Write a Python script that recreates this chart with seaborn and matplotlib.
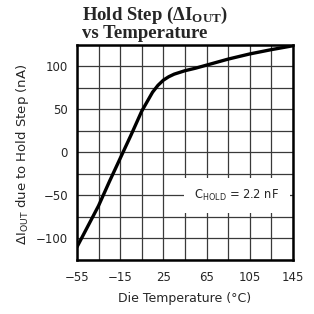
import numpy as np
import pandas as pd
import matplotlib
matplotlib.use("Agg")
import matplotlib.pyplot as plt
import seaborn as sns

# 曲线数据
temp = [-55, -45, -35, -25, -15, -5, 5, 15, 20, 25, 30, 35, 45, 55, 65, 85, 105, 125, 145]
hold_step = [-110, -86, -62, -34, -7, 20, 48, 70, 78, 84, 88, 91, 95, 98, 101.5, 108.5, 114.5, 119.5, 124]

xticks = [-55, -15, 25, 65, 105, 145]
yticks = [-100, -50, 0, 50, 100]

df = pd.DataFrame({"temp": temp, "step": hold_step})

sns.set_theme(style="white")
plt.rcParams["font.family"] = ["DejaVu Sans"]
plt.rcParams["mathtext.fontset"] = "custom"
plt.rcParams["mathtext.rm"] = "Liberation Serif"
plt.rcParams["mathtext.bf"] = "Liberation Serif:bold"
plt.rcParams["mathtext.sf"] = "DejaVu Sans"

fig = plt.figure(figsize=(3.14, 3.14), dpi=100)
ax = fig.add_axes([0.245, 0.172, 0.688, 0.685])

# 网格
for x in np.arange(-55, 146, 20):
    ax.axvline(x, color="#3a3a3a", lw=0.9, zorder=1)
for y in np.arange(-125, 126, 25):
    ax.axhline(y, color="#3a3a3a", lw=0.9, zorder=1)

sns.lineplot(data=df, x="temp", y="step", color="black", lw=2.4, ax=ax, zorder=3)

ax.set_xlim(-55, 145)
ax.set_ylim(-125, 125)
ax.set_xticks(xticks)
ax.set_yticks(yticks)
ax.set_xticklabels([str(v).replace("-", "\u2212") for v in xticks], fontsize=8.5)
ax.set_yticklabels([str(v).replace("-", "\u2212") for v in yticks], fontsize=8.5)
ax.tick_params(axis="x", length=0, pad=8)
ax.tick_params(axis="y", length=0, pad=6.5)
for s in ax.spines.values():
    s.set_linewidth(1.8)
    s.set_color("black")
    s.set_zorder(4)

ax.set_xlabel("Die Temperature (°C)", fontsize=9)
ax.xaxis.set_label_coords(0.5, -0.181)
ax.xaxis.label.set_va("center")
ax.set_ylabel(r"$\mathsf{\Delta I_{OUT}}$ due to Hold Step (nA)", fontsize=9.5)
ax.yaxis.set_label_coords(-0.25, 0.49)
ax.yaxis.label.set_va("center")

ax.text(93, -50, r"$\mathsf{C_{HOLD}}$ = 2.2 nF", fontsize=8.3, ha="center", va="center",
        zorder=5, bbox=dict(facecolor="white", edgecolor="none", pad=7.5))

fig.text(0.262, 0.985, r"Hold Step ($\mathbf{\Delta I_{OUT}}$)" + "\nvs Temperature",
         ha="left", va="top", fontsize=13.5, fontweight="bold",
         family="Liberation Serif", linespacing=0.92)

fig.savefig("out.png", dpi=100)
